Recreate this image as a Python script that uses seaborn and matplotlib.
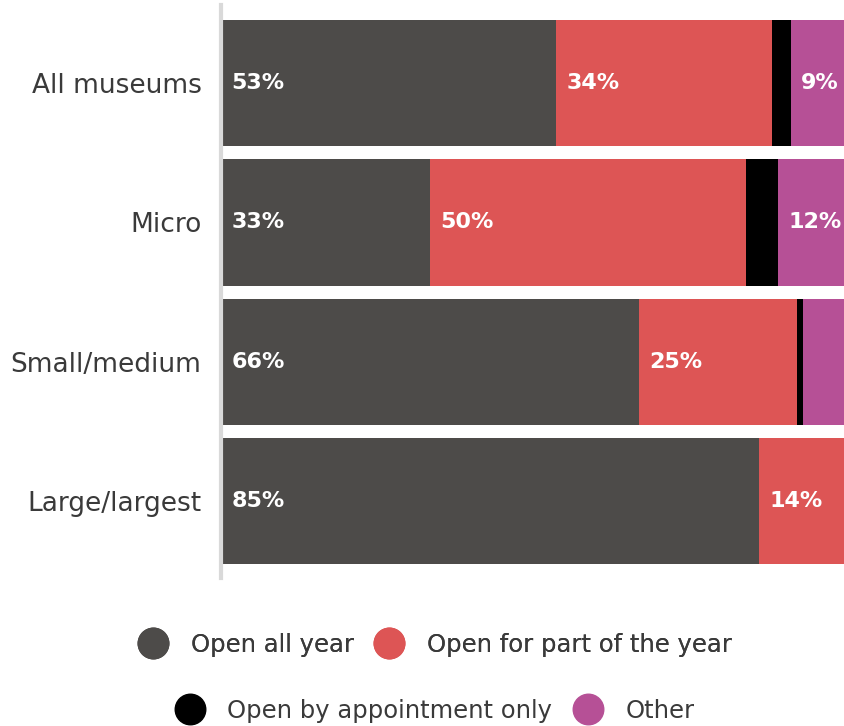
import matplotlib
matplotlib.use("Agg")
import matplotlib.pyplot as plt
from matplotlib.lines import Line2D
import seaborn as sns
import pandas as pd
import numpy as np

categories = ["All museums", "Micro", "Small/medium", "Large/largest"]
series_names = ["Open all year", "Open for part of the year", "Open by appointment only", "Other"]
open_all_year = [53, 33, 66, 85]
open_part_year = [34, 50, 25, 14]
by_appointment = [3, 5, 1, 0]
other = [9, 12, 8, 1]
label_all_year = ["53%", "33%", "66%", "85%"]
label_part_year = ["34%", "50%", "25%", "14%"]
label_other = ["9%", "12%", "", ""]

colors = ["#4d4b49", "#dd5555", "#000000", "#b65096"]

sns.set_theme(style="white")
plt.rcParams["font.family"] = ["DejaVu Sans"]

vals = np.array([open_all_year, open_part_year, by_appointment, other], dtype=float)
cum = np.cumsum(vals, axis=0)
lefts = cum - vals

fig = plt.figure(figsize=(8.45, 7.26), dpi=100)
W, H = 845, 726
ax_left, ax_right = 221, 854
ax_top, ax_bot = 5, 578
ax = fig.add_axes([ax_left / W, 1 - ax_bot / H, (ax_right - ax_left) / W, (ax_bot - ax_top) / H])

for i in range(3, -1, -1):
    df = pd.DataFrame({"cat": categories, "val": cum[i]})
    sns.barplot(data=df, x="val", y="cat", orient="h", color=colors[i],
                width=0.905, saturation=1, ax=ax, order=categories, linewidth=0)

ax.set_xlim(0, 100)
ax.set_ylim(3.55, -0.56)
ax.set_xlabel("")
ax.set_ylabel("")
ax.set_xticks([])
for s in ["top", "right", "bottom"]:
    ax.spines[s].set_visible(False)
ax.spines["left"].set_color("#d9d9d9")
ax.spines["left"].set_linewidth(3)
ax.tick_params(axis="y", length=0, pad=14, labelsize=19, labelcolor="#3a3a3a")

pad = 1.6
for j in range(len(categories)):
    for lab_list, si in ((label_all_year, 0), (label_part_year, 1), (label_other, 3)):
        t = lab_list[j]
        if t:
            ax.text(lefts[si][j] + pad, j, t, color="white", fontsize=16, fontweight="bold",
                    va="center", ha="left")

def handle(c):
    return Line2D([], [], marker="o", linestyle="none", markersize=22,
                  markerfacecolor=c, markeredgecolor=c)

leg1 = fig.legend([handle(colors[0]), handle(colors[1])], series_names[:2],
                  loc="center", bbox_to_anchor=(430 / W, 1 - 645 / H), ncol=2, frameon=False,
                  fontsize=17.5, handletextpad=0.55, columnspacing=0.45, labelcolor="#3a3a3a")
leg2 = fig.legend([handle(colors[2]), handle(colors[3])], series_names[2:],
                  loc="center", bbox_to_anchor=(430 / W, 1 - 711 / H), ncol=2, frameon=False,
                  fontsize=17.5, handletextpad=0.55, columnspacing=0.45, labelcolor="#3a3a3a")
fig.add_artist(leg1)

fig.savefig("out.png", dpi=100)
